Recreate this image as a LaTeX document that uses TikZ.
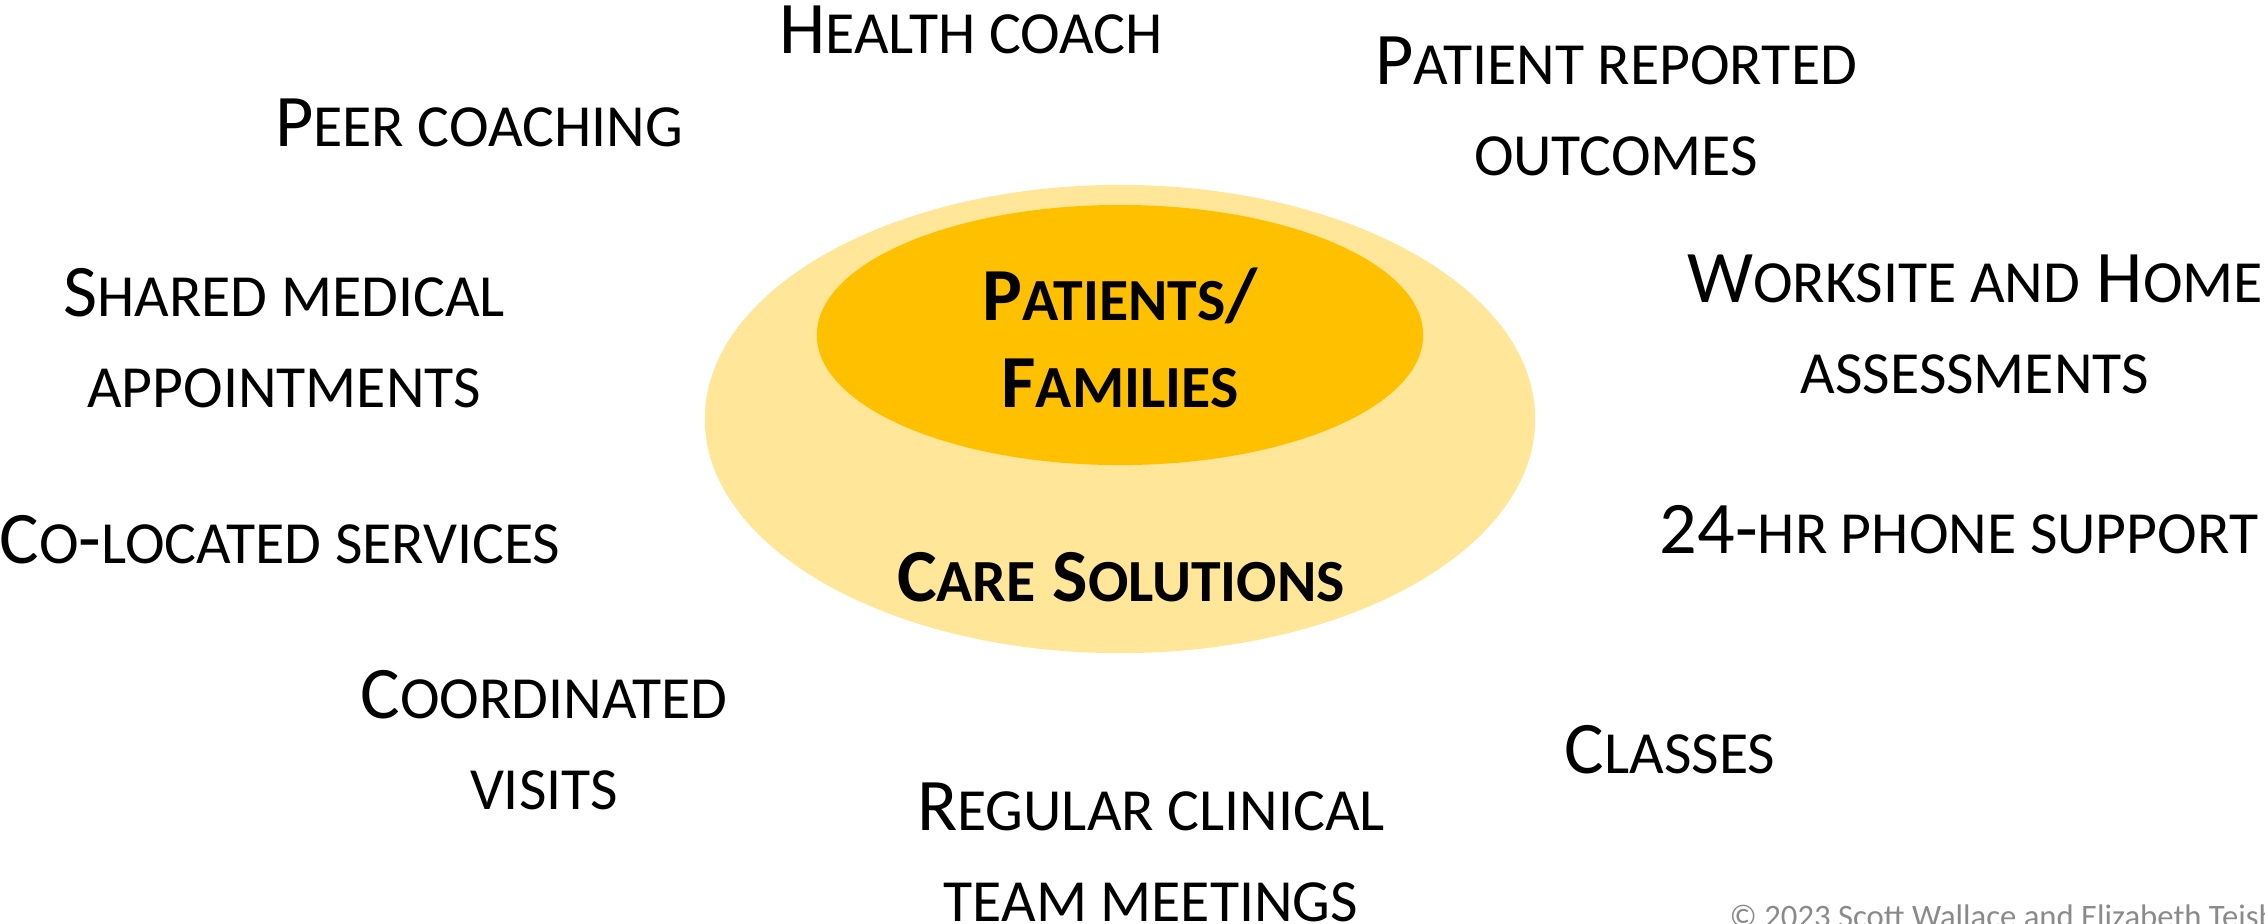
\documentclass[tikz,border=0pt]{standalone}
\usepackage{fontspec}
\setmainfont{Carlito}
\usepackage{xcolor}
\usetikzlibrary{shapes.geometric}

\definecolor{halo}{HTML}{FFE699}
\definecolor{core}{HTML}{FFC000}
\definecolor{credit}{HTML}{8A8A8A}

% faked small caps: first letter full size, rest as smaller capitals
\newcommand{\lbl}{\fontsize{21.1}{25.6}\selectfont}
\newcommand{\sm}[1]{{\fontsize{17}{25.6}\selectfont\MakeUppercase{#1}}}

\begin{document}
\begin{tikzpicture}[
    x=0.01cm, y=-0.01cm,
    blob/.style={ellipse, fill=#1, inner sep=0pt},
    label/.style={font=\lbl, align=center, anchor=base, inner sep=0pt},
    hub/.style={label, font=\fontsize{21.3}{24.7}\selectfont\bfseries},
]
\useasboundingbox (0,0) rectangle (2265,923);
\clip (0,0) rectangle (2265,923);

% the two rings
\node[blob=halo, minimum width=8.3cm, minimum height=4.68cm] (solutions) at (1120,419) {};
\node[blob=core, minimum width=6.06cm, minimum height=2.6cm] (patients) at (1120,335) {};

% anchor=base sits on the last line
\node[hub] (core) at (1120,407) {P\sm{atients}/\\F\sm{amilies}};
\node[hub] (care) at (1121,601) {C\sm{are} S\sm{olutions}};

% the services around them
\node[label] (health) at (971,53) {H\sm{ealth coach}};
\node[label] (peer) at (479,146) {P\sm{eer coaching}};
\node[label] (reported) at (1616,175) {P\sm{atient reported}\\\sm{outcomes}};
\node[label] (shared) at (284,407) {S\sm{hared medical}\\\sm{appointments}};
\node[label] (worksite) at (1975,393) {W\sm{orksite and} H\sm{ome}\\\sm{assessments}};
\node[label] (colocated) at (280,563) {C\sm{o}-\sm{located services}};
\node[label] (phone) at (1959,553) {24-\sm{hr phone support}};
\node[label] (coordinated) at (544,809) {C\sm{oordinated}\\\sm{visits}};
\node[label] (classes) at (1670,773) {C\sm{lasses}};
\node[label] (meetings) at (1151,921) {R\sm{egular clinical}\\\sm{team meetings}};

\node[anchor=base west, inner sep=0pt, text=credit, font=\fontsize{9.3}{11}\selectfont] (copyright) at (1729,927) {\textcopyright{} 2023 Scott Wallace and Elizabeth Teisberg};
\end{tikzpicture}
\end{document}
